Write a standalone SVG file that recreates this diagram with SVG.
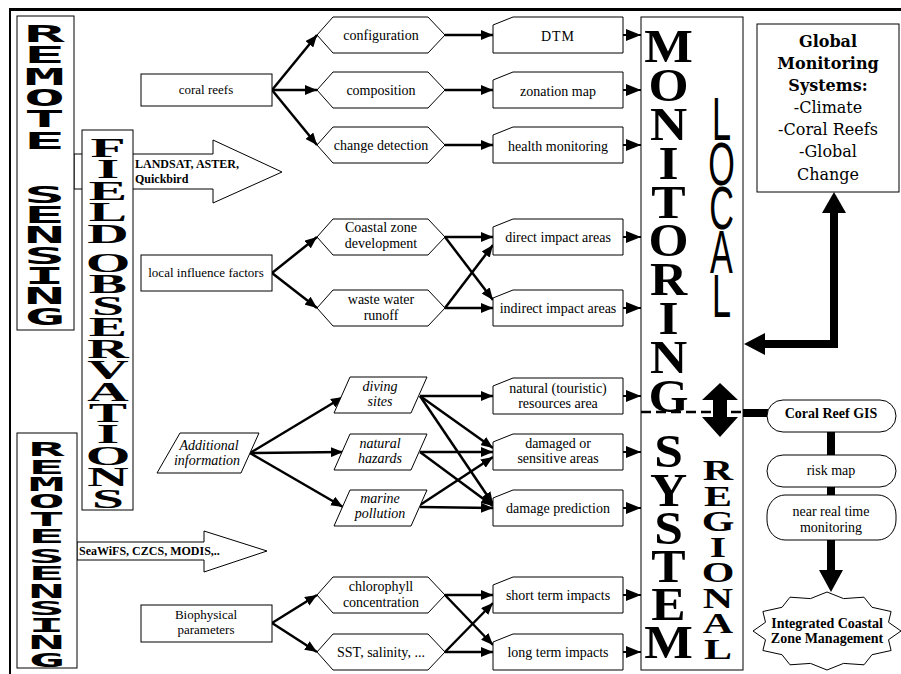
<svg xmlns="http://www.w3.org/2000/svg" width="901" height="674" viewBox="0 0 901 674">
<defs>
<style>
.bx{fill:#fff;stroke:#000;stroke-width:1}
.t{font-family:"Liberation Serif",serif;font-size:14px;text-anchor:middle;fill:#000}
.s13{font-size:13px}
.it{font-style:italic}
.b{font-weight:bold}
.c{fill:none;stroke:#000;stroke-width:2.5;marker-end:url(#ah)}
.c2{fill:none;stroke:#000;stroke-width:2;marker-end:url(#ah2)}
.vt{writing-mode:vertical-rl;text-orientation:upright;text-anchor:start}
.rs{font-family:"DejaVu Sans Mono",monospace;font-weight:bold;fill:#000}
.fo{font-family:"Liberation Serif",serif;font-weight:bold;fill:#000}
.lc{font-family:"Liberation Sans",sans-serif;fill:#000}
.gl{font-family:"DejaVu Serif",serif;font-size:16px;text-anchor:middle;fill:#000}
.thick{fill:none;stroke:#000;stroke-width:8}
</style>
<marker id="ah" viewBox="0 0 12 10" refX="12" refY="5" markerWidth="12" markerHeight="10" markerUnits="userSpaceOnUse" orient="auto"><path d="M0,0L12,5L0,10Z"/></marker>
<marker id="ah2" viewBox="0 0 15 12" refX="15" refY="6" markerWidth="15" markerHeight="12" markerUnits="userSpaceOnUse" orient="auto"><path d="M0,0L15,6L0,12Z"/></marker>
</defs>
<rect width="901" height="674" fill="#fff"/>
<g id="frame">
<rect x="9" y="8" width="892" height="3" fill="#000"/>
<rect x="9" y="8" width="2" height="666" fill="#000"/>
</g>

<g id="landsat-arrow">
<polygon class="bx" points="74,154 213,154 213,140 282,172 213,203 213,189 74,189"/>
<text class="t b" style="font-size:12px;text-anchor:start"><tspan x="135" y="168">LANDSAT, ASTER,</tspan><tspan x="135" y="183">Quickbird</tspan></text>
</g>
<g id="seawifs-arrow">
<polygon class="bx" points="77,542 204,542 204,531 267,551 204,572 204,560 77,560"/>
<text class="t b" x="79" y="555" style="font-size:12px;text-anchor:start">SeaWiFS, CZCS, MODIS,..</text>
</g>

<g id="remote-sensing-top">
<rect class="bx" x="17" y="16" width="57" height="314"/>
<text class="rs vt" font-size="23" letter-spacing="-5.37" transform="translate(44.5,0) scale(2.96,1)" x="0" y="20.7">REMOTE</text>
<text class="rs vt" font-size="23" letter-spacing="-6.44" transform="translate(44.5,0) scale(2.96,1)" x="0" y="181.7">SENSING</text>
</g>

<g id="field-observations">
<rect class="bx" x="82" y="130" width="51" height="380"/>
<text class="fo vt" font-size="28" letter-spacing="-9.5" transform="translate(108,0) scale(2.05,1)" x="0" y="132">FIELD</text>
<text class="fo vt" font-size="28" letter-spacing="-9.55" transform="translate(108,0) scale(2.05,1)" x="0" y="247">OBSERVATIONS</text>
</g>

<g id="remote-sensing-bottom">
<rect class="bx" x="17" y="433" width="60" height="235"/>
<text class="rs vt" font-size="19" letter-spacing="-4.9" transform="translate(46.5,0) scale(3.2,1)" x="0" y="438.4">REMOTE</text>
<text class="rs vt" font-size="19" letter-spacing="-5.1" transform="translate(46.5,0) scale(3.2,1)" x="0" y="545.4">SENSING</text>
</g>

<g id="connectors">
<line class="c" x1="272" y1="90" x2="317" y2="35"/>
<line class="c" x1="272" y1="90" x2="317" y2="90"/>
<line class="c" x1="272" y1="90" x2="317" y2="145"/>
<line class="c" x1="445" y1="35" x2="493" y2="35"/>
<line class="c" x1="445" y1="90" x2="493" y2="90"/>
<line class="c" x1="445" y1="145" x2="493" y2="145"/>
<line class="c" x1="272" y1="273" x2="317" y2="237"/>
<line class="c" x1="272" y1="273" x2="317" y2="308"/>
<line class="c" x1="445" y1="237" x2="493" y2="237"/>
<line class="c" x1="445" y1="237" x2="493" y2="300"/>
<line class="c" x1="445" y1="308" x2="493" y2="308"/>
<line class="c" x1="445" y1="308" x2="493" y2="245"/>
<line class="c" x1="250" y1="453" x2="343" y2="397"/>
<line class="c" x1="250" y1="453" x2="343" y2="452"/>
<line class="c" x1="250" y1="453" x2="343" y2="507"/>
<line class="c" x1="420" y1="396" x2="493" y2="396"/>
<line class="c" x1="420" y1="396" x2="493" y2="448"/>
<line class="c" x1="420" y1="396" x2="493" y2="504"/>
<line class="c" x1="420" y1="452" x2="493" y2="452"/>
<line class="c" x1="420" y1="452" x2="493" y2="506"/>
<line class="c" x1="420" y1="507" x2="493" y2="508"/>
<line class="c" x1="420" y1="505" x2="493" y2="457"/>
<line class="c" x1="272" y1="623" x2="317" y2="595"/>
<line class="c" x1="272" y1="623" x2="317" y2="652"/>
<line class="c" x1="445" y1="595" x2="493" y2="595"/>
<line class="c" x1="445" y1="595" x2="493" y2="645"/>
<line class="c" x1="445" y1="652" x2="493" y2="652"/>
<line class="c" x1="445" y1="652" x2="493" y2="603"/>
<line class="c2" x1="623" y1="35" x2="641" y2="35"/>
<line class="c2" x1="623" y1="90" x2="641" y2="90"/>
<line class="c2" x1="623" y1="145" x2="641" y2="145"/>
<line class="c2" x1="623" y1="237" x2="641" y2="237"/>
<line class="c2" x1="623" y1="308" x2="641" y2="308"/>
<line class="c2" x1="623" y1="396" x2="641" y2="396"/>
<line class="c2" x1="623" y1="452" x2="641" y2="452"/>
<line class="c2" x1="623" y1="508" x2="641" y2="508"/>
<line class="c2" x1="623" y1="595" x2="641" y2="595"/>
<line class="c2" x1="623" y1="652" x2="641" y2="652"/>
<path class="thick" d="M765,344H834V212"/>
<polygon points="744,344 765,333 765,355"/>
<polygon points="834,192 822,213 846,213"/>
<line x1="743" y1="413" x2="768" y2="413" stroke="#000" stroke-width="8"/>
<line x1="831" y1="432" x2="831" y2="456" stroke="#000" stroke-width="8"/>
<line x1="831" y1="487" x2="831" y2="496" stroke="#000" stroke-width="8"/>
<line x1="831" y1="540" x2="831" y2="571" stroke="#000" stroke-width="8"/>
<polygon points="819,570 843,570 831,592"/>
</g>

<g id="coral-reefs"><rect class="bx" x="141" y="74" width="131" height="32"/><text class="t s13" x="206" y="94">coral reefs</text></g>
<g id="local-influence"><rect class="bx" x="141" y="255" width="131" height="36"/><text class="t s13" x="206" y="277">local influence factors</text></g>
<g id="biophysical"><rect class="bx" x="141" y="605" width="131" height="37"/><text class="t s13"><tspan x="206" y="619">Biophysical</tspan><tspan x="206" y="634">parameters</tspan></text></g>
<g id="additional"><polygon class="bx" points="180,433 259,433 241,473 157,473"/><text class="t it"><tspan x="209" y="450">Additional</tspan><tspan x="207" y="465">information</tspan></text></g>

<g id="configuration"><path class="bx" d="M317,35L333,17L428,17L445,35L428,53L333,53Z"/><text class="t" x="381" y="40">configuration</text></g>
<g id="composition"><path class="bx" d="M317,90L333,72L428,72L445,90L428,108L333,108Z"/><text class="t" x="381" y="95">composition</text></g>
<g id="change-detection"><path class="bx" d="M317,145L333,127L428,127L445,145L428,163L333,163Z"/><text class="t" x="381" y="150">change detection</text></g>
<g id="coastal-zone"><path class="bx" d="M317,237L333,219L428,219L445,237L428,255L333,255Z"/><text class="t"><tspan x="381" y="232">Coastal zone</tspan><tspan x="381" y="248">development</tspan></text></g>
<g id="waste-water"><path class="bx" d="M317,308L333,290L428,290L445,308L428,326L333,326Z"/><text class="t"><tspan x="381" y="304">waste water</tspan><tspan x="381" y="320">runoff</tspan></text></g>
<g id="chlorophyll"><path class="bx" d="M317,595L333,577L428,577L445,595L428,613L333,613Z"/><text class="t"><tspan x="381" y="591">chlorophyll</tspan><tspan x="381" y="607">concentration</tspan></text></g>
<g id="sst"><path class="bx" d="M317,652L333,634L428,634L445,652L428,670L333,670Z"/><text class="t" x="381" y="657">SST, salinity, ...</text></g>

<g id="diving"><polygon class="bx" points="350,377 427,377 411,413 334,413"/><text class="t it"><tspan x="380" y="391">diving</tspan><tspan x="380" y="406">sites</tspan></text></g>
<g id="hazards"><polygon class="bx" points="350,434 427,434 411,470 334,470"/><text class="t it"><tspan x="380" y="448">natural</tspan><tspan x="380" y="463">hazards</tspan></text></g>
<g id="marine"><polygon class="bx" points="350,490 427,490 411,526 334,526"/><text class="t it"><tspan x="380" y="503">marine</tspan><tspan x="380" y="518">pollution</tspan></text></g>

<g id="dtm"><path class="bx" d="M493,25L513,17H623V53H493Z"/><text class="t" x="558" y="41" letter-spacing="1">DTM</text></g>
<g id="zonation"><path class="bx" d="M493,80L513,72H623V108H493Z"/><text class="t" x="558" y="96">zonation map</text></g>
<g id="health"><path class="bx" d="M493,135L513,127H623V163H493Z"/><text class="t" x="558" y="151">health monitoring</text></g>
<g id="direct"><path class="bx" d="M493,227L513,219H623V255H493Z"/><text class="t" x="558" y="242">direct impact areas</text></g>
<g id="indirect"><path class="bx" d="M493,298L513,290H623V326H493Z"/><text class="t" x="558" y="313">indirect impact areas</text></g>
<g id="natural-resources"><path class="bx" d="M493,386L513,378H623V414H493Z"/><text class="t"><tspan x="558" y="393">natural (touristic)</tspan><tspan x="558" y="408">resources area</tspan></text></g>
<g id="damaged"><path class="bx" d="M493,442L513,434H623V470H493Z"/><text class="t"><tspan x="558" y="448">damaged or</tspan><tspan x="558" y="463">sensitive areas</tspan></text></g>
<g id="damage-prediction"><path class="bx" d="M493,498L513,490H623V526H493Z"/><text class="t" x="558" y="513">damage prediction</text></g>
<g id="short-term"><path class="bx" d="M493,585L513,577H623V613H493Z"/><text class="t" x="558" y="600">short term impacts</text></g>
<g id="long-term"><path class="bx" d="M493,642L513,634H623V670H493Z"/><text class="t" x="558" y="657">long term impacts</text></g>

<g id="monitoring-system">
<rect class="bx" x="641" y="17" width="102" height="653"/>
<text class="fo vt" font-size="46" letter-spacing="-13" transform="translate(668.5,0) scale(1.12,1)" x="0" y="21">MONITORING</text>
<text class="fo vt" font-size="46" letter-spacing="-13.7" transform="translate(668.5,0) scale(1.12,1)" x="0" y="426">SYSTEM</text>
<text class="lc vt" font-size="61" letter-spacing="-23.6" transform="translate(721.5,0) scale(0.56,1)" x="0" y="84.8">LOCAL</text>
<text class="fo vt" font-size="30" letter-spacing="-8.2" transform="translate(718,0) scale(1.4,1)" x="0" y="453.3">REGIONAL</text>
<line x1="641" y1="412" x2="743" y2="412" stroke="#000" stroke-width="2.5" stroke-dasharray="10 5"/>
<polygon points="720,383 738,400 727,400 727,417 738,417 720,437 702,417 713,417 713,400 702,400"/>
</g>

<g id="global-monitoring">
<rect class="bx" x="757" y="24" width="142" height="168"/>
<text class="gl"><tspan class="b" x="828" y="47">Global</tspan><tspan class="b" x="828" y="69">Monitoring</tspan><tspan class="b" x="828" y="91">Systems:</tspan><tspan x="828" y="113">-Climate</tspan><tspan x="828" y="135">-Coral Reefs</tspan><tspan x="828" y="157">-Global</tspan><tspan x="828" y="180">Change</tspan></text>
</g>

<g id="coral-reef-gis"><rect class="bx" x="767" y="400" width="129" height="32" rx="16" ry="16"/><text class="t b" x="831" y="418">Coral Reef GIS</text></g>
<g id="risk-map"><rect class="bx" x="767" y="455" width="129" height="32" rx="16" ry="16"/><text class="t" x="831" y="475">risk map</text></g>
<g id="near-real-time"><rect class="bx" x="767" y="495" width="129" height="45" rx="18" ry="20"/><text class="t"><tspan x="831" y="516">near real time</tspan><tspan x="831" y="532">monitoring</tspan></text></g>
<g id="iczm"><polygon class="bx" points="901,631 888.5,639.7 891.1,650.5 872,654.7 864,664.8 843.5,663.4 827,670 810.5,663.4 790,664.8 782,654.7 762.9,650.5 765.5,639.7 753,631 765.5,622.3 762.9,611.5 782,607.3 790,597.2 810.5,598.6 827,592 843.5,598.6 864,597.2 872,607.3 891.1,611.5 888.5,622.3"/><text class="t b"><tspan x="827" y="628">Integrated Coastal</tspan><tspan x="827" y="643">Zone Management</tspan></text></g>
</svg>
